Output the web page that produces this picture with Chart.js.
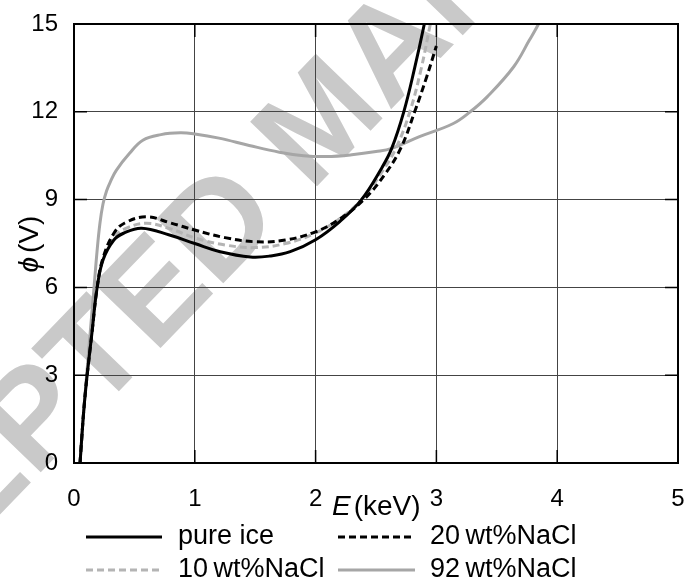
<!DOCTYPE html>
<html>
<head>
<meta charset="utf-8">
<script src="https://cdn.jsdelivr.net/npm/chart.js@4.4.0/dist/chart.umd.min.js"></script>
<style>
  html, body { margin: 0; padding: 0; background: #fff; }
  canvas { display: block; }
</style>
</head>
<body>
<canvas id="grafica" width="685" height="584"></canvas>
<script>
// datos
var ticksE = [0, 1, 2, 3, 4, 5];
var ticksPhi = [0, 3, 6, 9, 12, 15];

var ePure = [0.05, 0.065, 0.08, 0.095, 0.11, 0.15, 0.19, 0.24, 0.33, 0.41, 0.56, 0.79, 1.0, 1.21, 1.46, 1.62, 1.79, 2.0, 2.2, 2.38, 2.55, 2.63, 2.73, 2.82, 2.9, 2.92];
var phiPure = [0, 0.9, 1.75, 2.45, 3.05, 4.5, 5.95, 6.94, 7.62, 7.85, 8.02, 7.79, 7.5, 7.22, 7.04, 7.07, 7.22, 7.63, 8.25, 9.0, 10.1, 10.75, 12.0, 13.5, 15.0, 15.5];

var e10 = [0.05, 0.065, 0.08, 0.095, 0.11, 0.15, 0.19, 0.24, 0.33, 0.42, 0.6, 0.8, 1.0, 1.25, 1.5, 1.75, 2.0, 2.2, 2.38, 2.55, 2.67, 2.78, 2.87, 2.95, 2.97];
var phi10 = [0, 0.9, 1.75, 2.45, 3.05, 4.5, 5.95, 6.95, 7.7, 8.0, 8.19, 8.0, 7.69, 7.45, 7.36, 7.5, 7.86, 8.35, 9.0, 9.95, 10.8, 12.0, 13.4, 15.0, 15.4];

var e20 = [0.05, 0.065, 0.08, 0.095, 0.11, 0.15, 0.19, 0.24, 0.33, 0.42, 0.6, 0.8, 1.0, 1.25, 1.5, 1.75, 2.0, 2.2, 2.4, 2.58, 2.71, 2.82, 2.92, 3.0];
var phi20 = [0, 0.9, 1.75, 2.45, 3.05, 4.5, 5.95, 7.0, 7.85, 8.2, 8.41, 8.2, 7.96, 7.7, 7.56, 7.62, 7.9, 8.34, 9.0, 9.9, 10.8, 12.0, 13.2, 14.25];

var e92 = [0.05, 0.075, 0.105, 0.135, 0.166, 0.19, 0.215, 0.24, 0.27, 0.3, 0.35, 0.46, 0.57, 0.72, 0.88, 1.0, 1.2, 1.45, 1.7, 1.9, 2.09, 2.3, 2.5, 2.63, 2.86, 3.14, 3.28, 3.42, 3.64, 3.77, 3.84, 3.88];
var phi92 = [0, 1.5, 3, 4.5, 6, 7.2, 8.2, 8.85, 9.3, 9.6, 10.0, 10.58, 11.03, 11.22, 11.28, 11.24, 11.1, 10.85, 10.62, 10.5, 10.47, 10.53, 10.64, 10.75, 11.15, 11.6, 12.0, 12.51, 13.54, 14.45, 14.96, 15.3];

var etiquetas = ['pure ice', '20\u2009wt%NaCl', '10\u2009wt%NaCl', '92\u2009wt%NaCl'];

var fuente = '"Liberation Sans", Arial, sans-serif';

function puntos(xs, ys) {
  var out = [];
  for (var i in xs) {
    out.push({x: xs[i], y: ys[i]});
  }
  return out;
}

// marca de agua, ejes, titulos y leyenda
var decor = {
  id: 'decor',
  beforeDraw: function(chart) {
    var ctx = chart.ctx;
    ctx.save();
    ctx.fillStyle = '#c9c9c9';
    ctx.font = 'bold 135px ' + fuente;
    ctx.textBaseline = 'middle';
    ctx.textAlign = 'left';
    ctx.translate(-258, 728);
    ctx.rotate(-46 * Math.PI / 180);
    ctx.fillText('ACCEPTED MANUSCRIPT', 0, 0);
    ctx.restore();
  },
  afterDraw: function(chart) {
    var ctx = chart.ctx;
    var a = chart.chartArea;
    var sx = chart.scales.x, sy = chart.scales.y;
    ctx.save();
    // ticks hacia dentro
    ctx.strokeStyle = '#000';
    ctx.lineWidth = 1.5;
    ctx.beginPath();
    ticksE.forEach(function(v) {
      var px = sx.getPixelForValue(v);
      ctx.moveTo(px, a.bottom); ctx.lineTo(px, a.bottom - 13);
      ctx.moveTo(px, a.top); ctx.lineTo(px, a.top + 13);
    });
    ticksPhi.forEach(function(v) {
      var py = sy.getPixelForValue(v);
      ctx.moveTo(a.left, py); ctx.lineTo(a.left + 13, py);
      ctx.moveTo(a.right, py); ctx.lineTo(a.right - 13, py);
    });
    ctx.stroke();
    // marco
    ctx.lineWidth = 2;
    ctx.strokeRect(a.left, a.top, a.right - a.left, a.bottom - a.top);

    // titulo eje x
    ctx.fillStyle = '#000';
    ctx.textBaseline = 'alphabetic';
    ctx.textAlign = 'left';
    ctx.font = 'italic 28px ' + fuente;
    ctx.fillText('E', 332, 515);
    var w = ctx.measureText('E').width;
    ctx.font = '28px ' + fuente;
    ctx.fillText('(keV)', 332 + w + 3, 515);

    // titulo eje y
    ctx.save();
    ctx.translate(38, 244);
    ctx.rotate(-Math.PI / 2);
    ctx.font = 'italic 28px ' + fuente;
    var w1 = ctx.measureText('\u03D5').width;
    ctx.font = '28px ' + fuente;
    var w2 = ctx.measureText('(V)').width;
    var x0 = -(w1 + 4 + w2) / 2;
    ctx.font = 'italic 28px ' + fuente;
    ctx.fillText('\u03D5', x0, 0);
    ctx.font = '28px ' + fuente;
    ctx.fillText('(V)', x0 + w1 + 4, 0);
    ctx.restore();

    // leyenda en dos columnas
    var cols = [[86, 162, 178], [338, 415, 430]];
    var filas = [537, 570];
    ctx.font = '27px ' + fuente;
    ctx.textBaseline = 'middle';
    chart.data.datasets.forEach(function(ds, i) {
      var c = cols[i % 2], y = filas[Math.floor(i / 2)];
      ctx.strokeStyle = ds.borderColor;
      ctx.lineWidth = ds.borderWidth;
      ctx.setLineDash(ds.borderDash || []);
      ctx.beginPath();
      ctx.moveTo(c[0], y); ctx.lineTo(c[1], y);
      ctx.stroke();
      ctx.setLineDash([]);
      ctx.fillStyle = '#000';
      ctx.fillText(ds.label, c[2], y);
    });
    ctx.restore();
  }
};

var datosGrafica = {
  datasets: [{
      label: etiquetas[0],
      data: puntos(ePure, phiPure),
      borderColor: '#000000',
      borderWidth: 3
    }, {
      label: etiquetas[1],
      data: puntos(e20, phi20),
      borderColor: '#000000',
      borderWidth: 3,
      borderDash: [7, 4]
    }, {
      label: etiquetas[2],
      data: puntos(e10, phi10),
      borderColor: '#b4b4b4',
      borderWidth: 3,
      borderDash: [7, 4]
    }, {
      label: etiquetas[3],
      data: puntos(e92, phi92),
      borderColor: '#a6a6a6',
      borderWidth: 3
    }]
};

var grafica = document.getElementById('grafica');
var linechart = new Chart(grafica, {
  type: 'line',
  data: datosGrafica,
  plugins: [decor],
  options: {
    responsive: false,
    animation: false,
    devicePixelRatio: 1,
    layout: { padding: { top: 24, right: 7, left: 0, bottom: 0 } },
    elements: {
      point: { radius: 0 },
      line: { tension: 0.4, fill: false }
    },
    plugins: {
      legend: { display: false },
      tooltip: { enabled: false }
    },
    scales: {
      x: {
        type: 'linear',
        min: 0,
        max: 5,
        afterFit: function(s) { s.height = 121; s.paddingLeft = 0; s.paddingRight = 0; },
        afterBuildTicks: function(s) { s.ticks = ticksE.map(function(v) { return {value: v}; }); },
        border: { display: false },
        grid: { color: '#444', lineWidth: 1, drawTicks: false },
        ticks: { color: '#000', padding: 22, font: { family: fuente, size: 24 } }
      },
      y: {
        type: 'linear',
        min: 0,
        max: 15,
        afterFit: function(s) { s.width = 74; s.paddingTop = 0; s.paddingBottom = 0; },
        afterBuildTicks: function(s) { s.ticks = ticksPhi.map(function(v) { return {value: v}; }); },
        border: { display: false },
        grid: { color: '#444', lineWidth: 1, drawTicks: false },
        ticks: { color: '#000', padding: 16, font: { family: fuente, size: 24 } }
      }
    }
  }
});
</script>
</body>
</html>
